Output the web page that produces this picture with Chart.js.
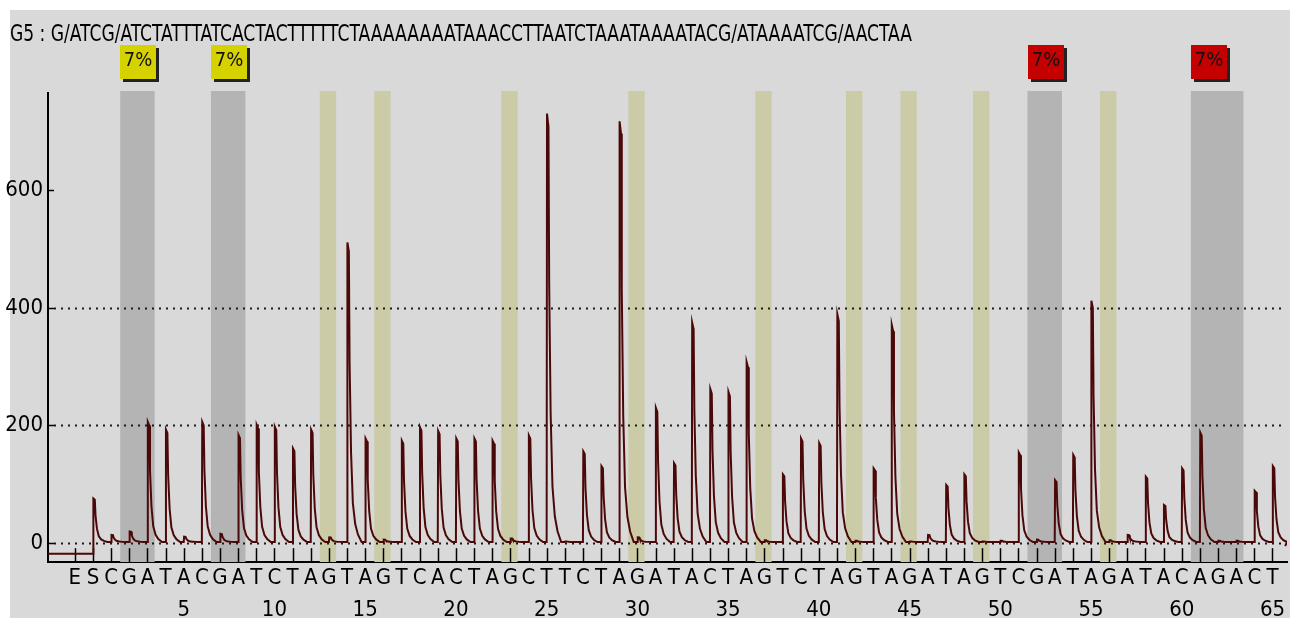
<!DOCTYPE html>
<html><head><meta charset="utf-8">
<script src="https://cdn.jsdelivr.net/npm/chart.js@4/dist/chart.umd.min.js"></script>
<style>html,body{margin:0;padding:0;background:#fff;}canvas{display:block;}</style>
</head><body>
<canvas id="c" width="1295" height="623"></canvas>
<script>
// ---------- data ----------
const sampleName = 'G5';
const sequenceText = 'G/ATCG/ATCTATTTATCACTACTTTTTCTAAAAAAAATAAACCTTAATCTAAATAAAATACG/ATAAAATCG/AACTAA';
// dispensation order, positions -1 (E), 0 (S), 1..65
const dispensation = ['E','S','C','G','A','T','A','C','G','A','T','C','T','A','G','T','A','G','T','C','A','C','T','A','G','C','T','T','C','T','A','G','A','T','A','C','T','A','G','T','C','T','A','G','T','A','G','A','T','A','G','T','C','G','A','T','A','G','A','T','A','C','A','G','A','C','T'];
// peak heights for positions 0..65
const peakHeights = [76,14,20,206,193,11,206,16,184,201,198,161,193,10,511,178,6,174,197,191,178,178,174,8,183,730,3,156,131,717,10,230,136,375,262,257,308,5,117,178,170,389,4,127,371,3,14,99,117,3,4,154,6,107,150,412,5,14,113,65,127,188,4,4,89,131];
const preSignal = -18;
const baselineSignal = 2;
const endSignal = -5;
const yTicks = [0, 200, 400, 600];
const dottedGrid = [0, 200, 400];
const controlPositions = [13, 16, 23, 30, 37, 42, 45, 49, 56];
const variantStart = [2, 7, 52, 61];
const variantEnd = [3, 8, 53, 63];
const variantLabel = ['7%', '7%', '7%', '7%'];
const variantStatus = ['warn', 'warn', 'fail', 'fail'];

// ---------- style ----------
const FONT = "'Liberation Sans Narrow','DejaVu Sans Condensed','Liberation Sans',sans-serif";
const xMin = -2.48, xMax = 65.8;
const shapeDx = [0, 0.02, 0.1, 0.14, 0.22, 0.32, 0.45, 0.6, 0.8];
const shapeF  = [0, 1, 0.97, 0.6, 0.3, 0.13, 0.06, 0.025, 0];

const trace = [{x: xMin, y: preSignal}];
peakHeights.forEach((h, p) => {
  shapeDx.forEach((dx, k) => {
    const y = k === 0 ? (p === 0 ? preSignal : baselineSignal) : baselineSignal + (h - baselineSignal) * shapeF[k];
    trace.push({x: p + dx, y});
  });
});
trace.push({x: 65.7, y: endSignal});

const decor = {
  id: 'decor',
  beforeDraw(chart) {
    const c = chart.ctx;
    c.save();
    c.fillStyle = '#ffffff';
    c.fillRect(0, 0, chart.width, chart.height);
    c.fillStyle = '#d9d9d9';
    c.fillRect(10, 10, 1280, 608);
    c.restore();
  },
  beforeDatasetsDraw(chart) {
    const c = chart.ctx, xs = chart.scales.x, ys = chart.scales.y, a = chart.chartArea;
    c.save();
    const top = a.top - 2;
    c.fillStyle = '#b4b4b4';
    variantStart.forEach((s, i) => {
      const x0 = xs.getPixelForValue(s - 0.5), x1 = xs.getPixelForValue(variantEnd[i] + 0.4);
      c.fillRect(x0, top, x1 - x0, a.bottom - top);
    });
    c.fillStyle = '#cbcba7';
    controlPositions.forEach(p => {
      const x0 = xs.getPixelForValue(p - 0.5), x1 = xs.getPixelForValue(p + 0.4);
      c.fillRect(x0, top, x1 - x0, a.bottom - top);
    });
    c.strokeStyle = '#1a1a1a';
    c.lineWidth = 2;
    c.setLineDash([2, 5]);
    dottedGrid.forEach(v => {
      const y = Math.round(ys.getPixelForValue(v)) + 0.5;
      c.beginPath(); c.moveTo(a.left + 6, y); c.lineTo(a.right - 2, y); c.stroke();
    });
    c.setLineDash([]);
    c.lineWidth = 1.5;
    c.strokeStyle = '#000';
    yTicks.forEach(v => {
      const y = Math.round(ys.getPixelForValue(v)) + 0.5;
      c.beginPath(); c.moveTo(a.left, y); c.lineTo(a.left + 6, y); c.stroke();
    });
    const y0 = ys.getPixelForValue(0) + 5;
    dispensation.forEach((_, i) => {
      const x = Math.round(xs.getPixelForValue(i - 1)) + 0.5;
      c.beginPath(); c.moveTo(x, y0); c.lineTo(x, a.bottom); c.stroke();
    });
    c.restore();
  },
  afterDraw(chart) {
    const c = chart.ctx, xs = chart.scales.x;
    c.save();
    const t = sampleName + ' : ' + sequenceText;
    c.font = '23px ' + FONT;
    c.fillStyle = '#000';
    c.textBaseline = 'alphabetic';
    const w = c.measureText(t).width;
    c.translate(10, 41);
    c.scale(902 / w, 1);
    c.fillText(t, 0, 0);
    c.restore();
    c.save();
    variantStart.forEach((s, i) => {
      const x0 = Math.round(xs.getPixelForValue(s - 0.5));
      const bw = 36, by = 45, bh = 34;
      c.fillStyle = '#222';
      c.fillRect(x0 + 3, by + 3, bw, bh);
      c.fillStyle = variantStatus[i] === 'warn' ? '#d6d200' : '#c40000';
      c.fillRect(x0, by, bw, bh);
      c.fillStyle = '#111';
      c.font = '20px ' + FONT;
      c.textAlign = 'center';
      c.textBaseline = 'middle';
      c.fillText(variantLabel[i], x0 + bw / 2, by + 16);
    });
    c.restore();
  }
};

new Chart(document.getElementById('c'), {
  type: 'line',
  data: {
    datasets: [{
      data: trace,
      borderColor: '#4b0808',
      borderWidth: 2,
      pointRadius: 0,
      tension: 0,
      fill: false
    }]
  },
  options: {
    responsive: false,
    animation: false,
    devicePixelRatio: 1,
    layout: {padding: {top: 93, right: 8, left: 0, bottom: 0}},
    plugins: {legend: {display: false}, tooltip: {enabled: false}, title: {display: false}},
    scales: {
      x: {
        type: 'linear', min: xMin, max: xMax,
        afterBuildTicks: s => { s.ticks = dispensation.map((_, i) => ({value: i - 1})); },
        afterFit: s => { s.height = 61; },
        grid: {display: false, drawTicks: false},
        border: {display: true, color: '#000', width: 2},
        ticks: {
          autoSkip: false, maxRotation: 0, minRotation: 0, padding: 0, color: '#000',
          font: {family: FONT, size: 22, lineHeight: 32 / 22},
          callback: v => {
            const letter = dispensation[v + 1];
            return (v > 0 && v % 5 === 0) ? [letter, String(v)] : letter;
          }
        }
      },
      y: {
        min: -32, max: 765,
        afterBuildTicks: s => { s.ticks = yTicks.map(v => ({value: v})); },
        afterFit: s => { s.width = 48; },
        grid: {display: false, drawTicks: false},
        border: {display: true, color: '#000', width: 2},
        ticks: {padding: 5, color: '#000', font: {family: FONT, size: 22}}
      }
    }
  },
  plugins: [decor]
});
</script>
</body></html>
